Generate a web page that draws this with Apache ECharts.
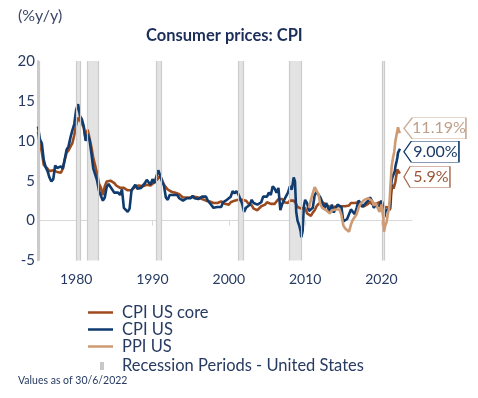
<!DOCTYPE html>
<html>
<head>
<meta charset="utf-8">
<script src="https://cdn.jsdelivr.net/npm/echarts@6/dist/echarts.min.js"></script>
<style>
  html, body { margin: 0; padding: 0; background: #fff; }
</style>
</head>
<body>
<div id="main" style="width: 478px;height:398px;"></div>
<script type="text/javascript">
    // data (year as decimal, % y/y)
    var cpiCore = [
        [1975.0,11.1],[1975.25,9.6],[1975.5,8.6],[1975.75,7.0],
        [1976.0,6.8],[1976.25,6.5],[1976.5,6.2],[1976.75,6.4],
        [1977.0,6.3],[1977.25,6.5],[1977.5,6.1],[1977.75,6.2],
        [1978.0,6.0],[1978.25,6.5],[1978.5,7.6],[1978.75,8.5],
        [1979.0,8.8],[1979.25,9.0],[1979.5,9.7],[1979.75,10.7],
        [1980.0,12.0],[1980.25,12.9],[1980.5,13.1],[1980.75,12.2],
        [1981.0,11.6],[1981.25,10.1],[1981.5,11.4],[1981.75,11.2],
        [1982.0,9.2],[1982.25,7.8],[1982.5,7.6],[1982.75,5.9],
        [1983.0,4.6],[1983.25,4.1],[1983.5,3.2],[1983.75,4.3],
        [1984.0,4.9],[1984.25,5.1],[1984.5,5.0],[1984.75,4.8],
        [1985.0,4.7],[1985.25,4.4],[1985.5,4.5],[1985.75,4.1],
        [1986.0,4.3],[1986.25,4.1],[1986.5,4.0],[1986.75,3.8],
        [1987.0,3.8],[1987.25,3.8],[1987.5,4.0],[1987.75,4.3],
        [1988.0,4.4],[1988.25,4.4],[1988.5,4.5],[1988.75,4.3],
        [1989.0,4.5],[1989.25,4.5],[1989.5,4.6],[1989.75,4.4],
        [1990.0,4.4],[1990.25,4.8],[1990.5,5.0],[1990.75,5.3],
        [1991.0,5.6],[1991.25,5.1],[1991.5,4.5],[1991.75,4.4],
        [1992.0,3.9],[1992.25,3.9],[1992.5,3.6],[1992.75,3.5],
        [1993.0,3.5],[1993.25,3.5],[1993.5,3.3],[1993.75,3.2],
        [1994.0,2.9],[1994.25,2.8],[1994.5,2.9],[1994.75,2.7],
        [1995.0,2.9],[1995.25,3.1],[1995.5,3.0],[1995.75,3.0],
        [1996.0,2.9],[1996.25,2.7],[1996.5,2.7],[1996.75,2.6],
        [1997.0,2.5],[1997.25,2.7],[1997.5,2.4],[1997.75,2.3],
        [1998.0,2.2],[1998.25,2.1],[1998.5,2.2],[1998.75,2.3],
        [1999.0,2.4],[1999.25,2.2],[1999.5,2.1],[1999.75,2.1],
        [2000.0,2.0],[2000.25,2.3],[2000.5,2.5],[2000.75,2.5],
        [2001.0,2.6],[2001.25,2.6],[2001.5,2.7],[2001.75,2.6],
        [2002.0,2.6],[2002.25,2.5],[2002.5,2.2],[2002.75,2.2],
        [2003.0,1.9],[2003.25,1.5],[2003.5,1.5],[2003.75,1.3],
        [2004.0,1.1],[2004.25,1.8],[2004.5,1.8],[2004.75,2.0],
        [2005.0,2.3],[2005.25,2.2],[2005.5,2.1],[2005.75,2.1],
        [2006.0,2.1],[2006.25,2.3],[2006.5,2.7],[2006.75,2.7],
        [2007.0,2.7],[2007.25,2.3],[2007.5,2.2],[2007.75,2.2],
        [2008.0,2.5],[2008.25,2.3],[2008.5,2.5],[2008.75,2.2],
        [2009.0,1.7],[2009.25,1.9],[2009.5,1.5],[2009.75,1.7],
        [2010.0,1.6],[2010.25,0.9],[2010.5,0.9],[2010.75,0.6],
        [2011.0,1.0],[2011.25,1.3],[2011.5,1.8],[2011.75,2.1],
        [2012.0,2.3],[2012.25,2.3],[2012.5,2.1],[2012.75,2.0],
        [2013.0,1.9],[2013.25,1.7],[2013.5,1.7],[2013.75,1.7],
        [2014.0,1.6],[2014.25,1.8],[2014.5,1.9],[2014.75,1.8],
        [2015.0,1.6],[2015.25,1.8],[2015.5,1.8],[2015.75,1.9],
        [2016.0,2.2],[2016.25,2.1],[2016.5,2.2],[2016.75,2.1],
        [2017.0,2.3],[2017.25,1.9],[2017.5,1.7],[2017.75,1.8],
        [2018.0,1.8],[2018.25,2.1],[2018.5,2.4],[2018.75,2.1],
        [2019.0,2.2],[2019.25,2.1],[2019.5,2.2],[2019.75,2.3],
        [2020.0,2.3],[2020.08,2.4],[2020.17,2.1],[2020.25,1.4],[2020.33,1.2],[2020.42,1.2],
        [2020.5,1.6],[2020.58,1.7],[2020.67,1.7],[2020.75,1.6],[2020.83,1.6],[2020.92,1.6],
        [2021.0,1.4],[2021.08,1.3],[2021.17,1.6],[2021.25,3.0],[2021.33,3.8],[2021.42,4.5],
        [2021.5,4.3],[2021.58,4.0],[2021.67,4.0],[2021.75,4.6],[2021.83,4.9],[2021.92,5.5],
        [2022.0,6.0],[2022.08,6.4],[2022.17,6.5],[2022.25,6.2],[2022.33,6.0],[2022.42,5.9]
    ];
    var cpiUs = [
        [1975.0,11.8],[1975.25,10.2],[1975.5,9.7],[1975.75,7.6],
        [1976.0,6.7],[1976.25,6.2],[1976.5,5.4],[1976.75,4.9],
        [1977.0,5.2],[1977.25,6.9],[1977.5,6.6],[1977.75,6.4],
        [1978.0,6.8],[1978.25,6.5],[1978.5,7.7],[1978.75,8.9],
        [1979.0,9.3],[1979.25,10.4],[1979.5,11.3],[1979.75,12.1],
        [1980.0,13.9],[1980.25,14.6],[1980.5,13.1],[1980.75,12.7],
        [1981.0,11.8],[1981.25,10.0],[1981.5,10.8],[1981.75,10.1],
        [1982.0,8.4],[1982.25,6.5],[1982.5,6.4],[1982.75,5.0],
        [1983.0,3.7],[1983.25,3.9],[1983.5,2.5],[1983.75,2.9],
        [1984.0,4.2],[1984.25,4.6],[1984.5,4.2],[1984.75,4.3],
        [1985.0,3.5],[1985.25,3.7],[1985.5,3.5],[1985.75,3.2],
        [1986.0,3.9],[1986.25,1.6],[1986.5,1.5],[1986.75,1.1],
        [1987.0,1.5],[1987.25,3.8],[1987.5,3.9],[1987.75,4.5],
        [1988.0,4.0],[1988.25,3.9],[1988.5,4.1],[1988.75,4.2],
        [1989.0,4.7],[1989.25,5.1],[1989.5,5.0],[1989.75,4.5],
        [1990.0,5.2],[1990.25,4.7],[1990.5,4.8],[1990.75,6.3],
        [1991.0,5.7],[1991.25,4.9],[1991.5,4.4],[1991.75,2.9],
        [1992.0,2.6],[1992.25,3.2],[1992.5,3.2],[1992.75,3.2],
        [1993.0,3.3],[1993.25,3.2],[1993.5,2.8],[1993.75,2.8],
        [1994.0,2.5],[1994.25,2.4],[1994.5,2.8],[1994.75,2.6],
        [1995.0,2.8],[1995.25,3.1],[1995.5,2.8],[1995.75,2.8],
        [1996.0,2.7],[1996.25,2.9],[1996.5,3.0],[1996.75,3.0],
        [1997.0,3.0],[1997.25,2.5],[1997.5,2.2],[1997.75,2.1],
        [1998.0,1.6],[1998.25,1.4],[1998.5,1.7],[1998.75,1.5],
        [1999.0,1.7],[1999.25,2.3],[1999.5,2.1],[1999.75,2.6],
        [2000.0,2.7],[2000.25,3.0],[2000.5,3.7],[2000.75,3.4],
        [2001.0,3.7],[2001.25,3.3],[2001.5,2.7],[2001.75,2.1],
        [2002.0,1.1],[2002.25,1.6],[2002.5,1.5],[2002.75,2.0],
        [2003.0,2.6],[2003.25,2.2],[2003.5,2.1],[2003.75,2.0],
        [2004.0,1.9],[2004.25,2.3],[2004.5,3.0],[2004.75,3.2],
        [2005.0,3.0],[2005.25,3.5],[2005.5,3.2],[2005.75,4.3],
        [2006.0,4.0],[2006.25,3.5],[2006.5,4.1],[2006.75,1.3],
        [2007.0,2.1],[2007.25,2.6],[2007.5,2.4],[2007.75,3.5],
        [2008.0,4.3],[2008.25,3.9],[2008.5,5.4],[2008.67,4.9],[2008.83,1.1],
        [2009.0,0.0],[2009.25,-0.7],[2009.42,-1.4],[2009.5,-2.1],[2009.67,-1.3],[2009.83,1.8],
        [2010.0,2.6],[2010.25,2.2],[2010.5,1.2],[2010.75,1.2],
        [2011.0,1.6],[2011.25,3.2],[2011.5,3.6],[2011.75,3.5],
        [2012.0,2.9],[2012.25,2.3],[2012.5,1.4],[2012.75,2.2],
        [2013.0,1.6],[2013.25,1.1],[2013.5,2.0],[2013.75,1.0],
        [2014.0,1.6],[2014.25,2.0],[2014.5,2.0],[2014.75,1.7],
        [2015.0,-0.1],[2015.25,-0.2],[2015.5,0.2],[2015.75,0.2],
        [2016.0,1.4],[2016.25,1.1],[2016.5,0.8],[2016.75,1.6],
        [2017.0,2.5],[2017.25,2.2],[2017.5,1.7],[2017.75,2.0],
        [2018.0,2.1],[2018.25,2.5],[2018.5,2.9],[2018.75,2.5],
        [2019.0,1.6],[2019.25,2.0],[2019.5,1.8],[2019.75,1.8],
        [2020.0,2.5],[2020.08,2.3],[2020.17,1.5],[2020.25,0.3],[2020.33,0.1],[2020.42,0.6],
        [2020.5,1.0],[2020.58,1.3],[2020.67,1.4],[2020.75,1.2],[2020.83,1.2],[2020.92,1.4],
        [2021.0,1.4],[2021.08,1.7],[2021.17,2.6],[2021.25,4.2],[2021.33,5.0],[2021.42,5.4],
        [2021.5,5.4],[2021.58,5.3],[2021.67,5.4],[2021.75,6.2],[2021.83,6.8],[2021.92,7.0],
        [2022.0,7.5],[2022.08,7.9],[2022.17,8.5],[2022.25,8.3],[2022.33,8.6],[2022.42,9.0]
    ];
    var ppiUs = [
        [2010.5,1.6],[2010.75,2.6],
        [2011.0,3.4],[2011.25,4.2],[2011.5,4.0],[2011.75,3.3],
        [2012.0,2.0],[2012.25,1.6],[2012.5,1.4],[2012.75,1.3],
        [2013.0,1.2],[2013.25,0.9],[2013.5,1.3],[2013.75,1.1],
        [2014.0,1.4],[2014.25,1.6],[2014.5,1.4],[2014.75,0.7],
        [2015.0,-0.6],[2015.25,-1.0],[2015.5,-0.9],[2015.75,-1.4],
        [2016.0,-0.5],[2016.25,0.1],[2016.5,0.3],[2016.75,0.8],
        [2017.0,1.6],[2017.25,2.1],[2017.5,1.9],[2017.75,2.6],
        [2018.0,2.7],[2018.25,2.8],[2018.5,2.9],[2018.75,2.5],
        [2019.0,1.9],[2019.25,2.2],[2019.5,1.6],[2019.75,1.1],
        [2020.0,2.0],[2020.17,1.3],[2020.33,-1.4],[2020.5,-0.6],[2020.67,-0.2],[2020.83,0.8],
        [2021.0,1.6],[2021.17,4.1],[2021.33,6.8],[2021.5,7.8],[2021.67,8.6],[2021.83,10.0],
        [2022.0,10.0],[2022.17,11.7],[2022.33,11.0],[2022.42,11.19]
    ];
    // recession periods (start, end)
    var recessions = [
        [1975.0,1975.2],[1980.0,1980.5],[1981.5,1982.9],[1990.5,1991.2],
        [2001.2,2001.9],[2007.9,2009.5],[2020.1,2020.3]
    ];
    var xTicks = [1980, 1990, 2000, 2010, 2020];

    var myChart = echarts.init(document.getElementById('main'));

    var navy = '#0f3b6e', brown = '#9c4a1e', tan = '#cf9a72';
    var textNavy = '#263a62';
    var FONT = 'Lato';

    var bandAreas = [], bandEdges = [];
    recessions.forEach(function (r) {
        bandAreas.push([{xAxis: r[0]}, {xAxis: r[1]}]);
        bandEdges.push({xAxis: r[0]});
        bandEdges.push({xAxis: r[1]});
    });

    // arrow-shaped tag used for the end values
    function endTag(series, txt, w, dy, border, textColor) {
        var last = series[series.length - 1];
        return {
            symbol: 'path://M0,10 L8,0 L60,0 L60,20 L8,20 Z',
            symbolSize: [w, 21],
            symbolOffset: [w / 2 + 4, dy],
            silent: true,
            itemStyle: {color: '#fff', borderColor: border, borderWidth: 1},
            label: {
                show: true, position: 'inside', offset: [4, 0],
                formatter: txt, color: textColor,
                fontSize: 16, fontFamily: FONT
            },
            data: [{coord: last}]
        };
    }

    option = {
        animation: false,
        title: {
            text: 'Consumer prices: CPI',
            left: 146, top: 27, padding: 0,
            textStyle: {fontSize: 16.5, fontWeight: 'bold', color: '#1c2f5a', fontFamily: FONT}
        },
        graphic: [
            {type: 'text', x: 18, y: 8, style: {text: '(%y/y)', fill: '#3b4868', font: '16px Lato'}},
            {type: 'text', x: 18, y: 375, style: {text: 'Values as of 30/6/2022', fill: textNavy, font: '10.5px Lato'}}
        ],
        legend: [{
            data: [
                {name: 'CPI US core', icon: 'rect'},
                {name: 'CPI US', icon: 'rect'},
                {name: 'PPI US', icon: 'rect'}
            ],
            orient: 'vertical', left: 88, top: 304, padding: 0,
            itemWidth: 25, itemHeight: 2.5, itemGap: 0,
            textStyle: {fontSize: 16.5, color: textNavy, fontFamily: FONT, lineHeight: 17, padding: [0, 0, 0, 4]}
        }, {
            data: [{name: 'Recession Periods - United States', icon: 'rect'}],
            orient: 'vertical', left: 100, top: 357.5, padding: 0,
            itemWidth: 4, itemHeight: 8,
            itemStyle: {color: '#c8c8c8'},
            textStyle: {fontSize: 16.5, color: textNavy, fontFamily: FONT, lineHeight: 17, padding: [0, 0, 0, 13]}
        }],
        grid: {left: 38, right: 66, top: 61, bottom: 137.5},
        xAxis: {
            type: 'value', min: 1975, max: 2024,
            axisLine: {lineStyle: {color: '#d9d9d9', width: 1}},
            axisTick: {show: true, customValues: xTicks, length: 5, lineStyle: {color: '#d9d9d9'}},
            axisLabel: {
                customValues: xTicks, margin: 12, fontSize: 14, color: textNavy, fontFamily: FONT,
                formatter: function (v) { return String(v); }
            },
            splitLine: {show: false}
        },
        yAxis: {
            type: 'value', min: -5, max: 20, interval: 5,
            // the 1973-75 recession band ends right at the left edge
            axisLine: {show: true, lineStyle: {color: '#cbcbcb', width: 2}},
            axisTick: {show: false},
            axisLabel: {margin: 3, fontSize: 15, color: textNavy, fontFamily: FONT},
            splitLine: {show: false}
        },
        series: [{
            name: 'Recession Periods - United States',
            type: 'line', data: [], z: 1,
            color: '#c8c8c8',
            markArea: {silent: true, itemStyle: {color: '#e3e3e3'}, data: bandAreas},
            markLine: {
                silent: true, symbol: ['none', 'none'], label: {show: false},
                lineStyle: {color: '#cbcbcb', width: 1.2, type: 'solid'},
                data: bandEdges
            }
        }, {
            name: 'CPI US core', type: 'line', data: cpiCore, z: 3,
            symbol: 'none', color: brown, lineStyle: {width: 2.6},
            markPoint: endTag(cpiCore, '5.9%', 46, 3.5, '#a86c50', '#9a5638')
        }, {
            name: 'CPI US', type: 'line', data: cpiUs, z: 4,
            symbol: 'none', color: navy, lineStyle: {width: 2.6},
            markPoint: endTag(cpiUs, '9.00%', 55, 3, navy, '#1a3a66')
        }, {
            name: 'PPI US', type: 'line', data: ppiUs, z: 5,
            symbol: 'none', color: tan, lineStyle: {width: 2.6},
            markPoint: endTag(ppiUs, '11.19%', 62, -3, '#cbae9a', '#bf9f8a')
        }]
    };

    myChart.setOption(option);
</script>
</body>
</html>
